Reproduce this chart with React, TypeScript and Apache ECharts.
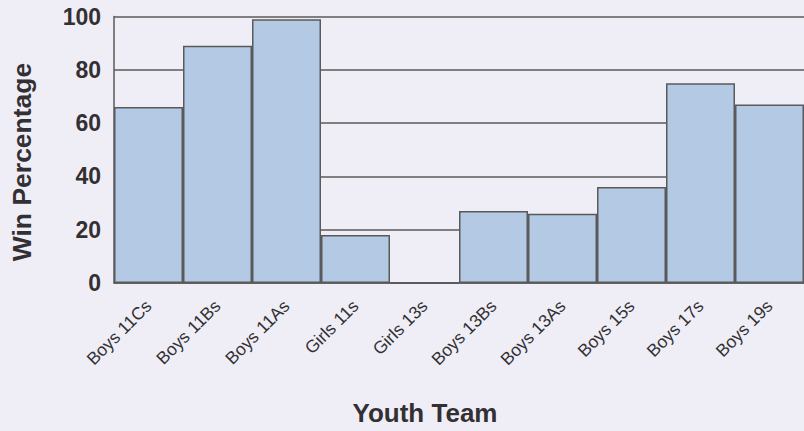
import React, { useEffect, useRef } from "react";
import * as echarts from "echarts";

const categories = [
  "Boys 11Cs",
  "Boys 11Bs",
  "Boys 11As",
  "Girls 11s",
  "Girls 13s",
  "Boys 13Bs",
  "Boys 13As",
  "Boys 15s",
  "Boys 17s",
  "Boys 19s",
];
const winPct = [66, 89, 99, 18, 0, 27, 26, 36, 75, 67];
const yTicks = { min: 0, max: 100, interval: 20 };
const yTitle = "Win Percentage";
const xTitle = "Youth Team";

const FONT = "'Liberation Sans', Arial, Helvetica, sans-serif";
const TEXT = "#333033";
const LINE = "#5a5a5a";

export default function App() {
  const ref = useRef<HTMLDivElement>(null);
  useEffect(() => {
    if (!ref.current) return;
    const chart = echarts.init(ref.current, undefined, { renderer: "svg" });
    chart.setOption({
      animation: false,
      backgroundColor: "#efeef7",
      textStyle: { fontFamily: FONT },
      grid: { left: 114, right: -5, top: 16.5, bottom: 148, containLabel: false },
      xAxis: {
        type: "category",
        data: categories,
        axisLine: { show: true, lineStyle: { color: LINE, width: 1.5 } },
        axisTick: { show: false },
        axisLabel: {
          rotate: 45,
          margin: 20,
          fontSize: 17.5,
          color: TEXT,
          fontFamily: FONT,
          interval: 0,
        },
      },
      yAxis: {
        type: "value",
        min: yTicks.min,
        max: yTicks.max,
        interval: yTicks.interval,
        axisLine: { show: true, lineStyle: { color: LINE, width: 1.5 } },
        axisTick: { show: false },
        axisLabel: { fontSize: 23, fontWeight: "bold", color: TEXT, margin: 13, fontFamily: FONT },
        splitLine: { show: true, lineStyle: { color: LINE, width: 1.5 } },
      },
      graphic: [
        {
          type: "text",
          x: 425,
          y: 413,
          style: {
            text: xTitle,
            fontSize: 26,
            fontWeight: "bold",
            fill: TEXT,
            fontFamily: FONT,
            align: "center",
            verticalAlign: "middle",
          },
        },
        {
          type: "text",
          x: 22,
          y: 162,
          rotation: Math.PI / 2,
          style: {
            text: yTitle,
            fontSize: 26.5,
            fontWeight: "bold",
            fill: TEXT,
            fontFamily: FONT,
            align: "center",
            verticalAlign: "middle",
          },
        },
      ],
      series: [
        {
          type: "bar",
          data: winPct,
          barCategoryGap: "0%",
          itemStyle: { color: "#b3c9e4", borderColor: LINE, borderWidth: 1.5 },
        },
      ],
    });
    return () => chart.dispose();
  }, []);
  return (
    <div style={{ position: "fixed", left: 0, top: 0, width: 804, height: 431 }}>
      <div ref={ref} style={{ width: 804, height: 431 }} />
    </div>
  );
}
